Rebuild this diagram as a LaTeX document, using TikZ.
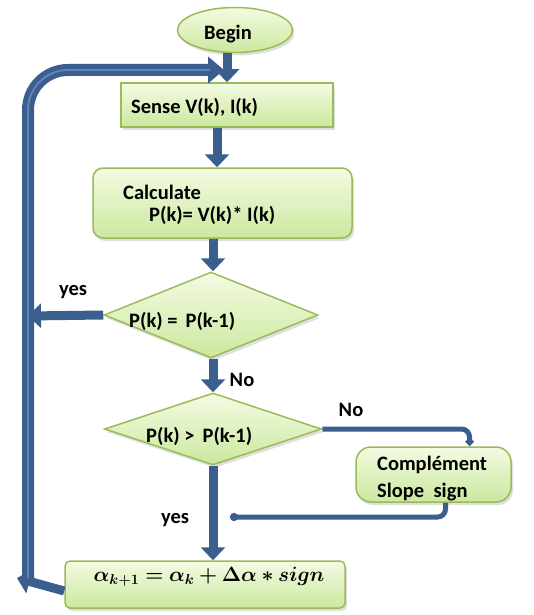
\documentclass[tikz,border=0pt]{standalone}
\usepackage{fontspec}
\usepackage{amsmath,bm}
\setmainfont{Carlito}
\usetikzlibrary{shapes.geometric,arrows.meta,calc,shadows}
\definecolor{flowblue}{HTML}{3A5F8F}
\definecolor{flowlight}{HTML}{5F83B6}
\definecolor{boxedge}{HTML}{9BBB59}
\definecolor{boxtop}{HTML}{F4FBE3}
\definecolor{boxbot}{HTML}{CBE89E}
\tikzset{
  x=1pt,y=-1pt,
  boxbase/.style={draw=boxedge,line width=1.5pt,top color=boxtop,bottom color=boxbot,
     drop shadow={opacity=0.25,shadow xshift=2pt,shadow yshift=-3pt},inner sep=0pt},
  procbox/.style={boxbase,rectangle},
  roundbox/.style={boxbase,rectangle,rounded corners=#1},
  decbox/.style={boxbase,diamond},
  termbox/.style={boxbase,ellipse},
  txt/.style={font=\fontsize{20.5}{24}\selectfont\bfseries,inner sep=0pt,anchor=west},
  lbl/.style={font=\fontsize{20.5}{24}\selectfont\bfseries,inner sep=0pt},
  flow/.style={draw=flowblue,line width=9pt,-{Triangle[width=24pt,length=13pt]}},
  thinflow/.style={draw=flowblue,line width=5pt,rounded corners=8pt},
}
\begin{document}
\begin{tikzpicture}
\useasboundingbox (0,0) rectangle (533,615);
% shapes
\node[termbox,minimum width=115,minimum height=45] (begin) at (235,30) {};
\node[lbl] (begint) at (228,34) {Begin};
\node[procbox,minimum width=212,minimum height=44] (sense) at (227,105) {};
\node[txt] (senset) at (131,107) {Sense V(k), I(k)};
\node[roundbox=10pt,minimum width=259,minimum height=70] (calc) at (222.5,203) {};
\node[txt] (calct1) at (123,192) {Calculate};
\node[txt] (calct2) at (149,215) {P(k)= V(k)* I(k)};
\node[decbox,minimum width=214,minimum height=86] (d1) at (211,315) {};
\node[txt] (d1t) at (129,321) {P(k) =\ \,P(k-1)};
\node[decbox,minimum width=217,minimum height=72] (d2) at (213,429) {};
\node[txt] (d2t) at (146,436) {P(k) >\ \,P(k-1)};
\node[roundbox=15pt,minimum width=155,minimum height=55] (comp) at (433.5,474.5) {};
\node[txt] (compt1) at (377,465) {Complément};
\node[txt] (compt2) at (377,492) {Slope\ \ sign};
\node[roundbox=5pt,minimum width=280,minimum height=47] (alpha) at (205,584.5) {};
\node[inner sep=0pt,font=\fontsize{20.5}{24}\selectfont] (alphat) at (209,577)
  {$\boldsymbol{\alpha_{k+1} = \alpha_k + \Delta\alpha * sign}$};
% labels
\node[lbl] (yes1) at (73,292) {yes};
\node[lbl] (no1) at (242,380) {No};
\node[lbl] (no2) at (351,410) {No};
\node[lbl] (yes2) at (175,520) {yes};
% coordinates
\coordinate (loopend) at (224,70);
\coordinate (loopx) at (28,316);
\coordinate (leftend) at (17,578);
\coordinate (joinend) at (230,517);
% connectors
\draw[flow] (begin.south -| sense.north) -- (sense.north);
\draw[flow] ([xshift=-10pt]sense.south) -- ([xshift=-10pt]sense.south |- calc.north);
\draw[flow] ([xshift=-9.5pt]calc.south) -- ([xshift=-9.5pt]calc.south |- d1.north);
\draw[flow] (d1.south -| d2.north) -- (d2.north);
\draw[flow] (d1.west) -- (loopx);
\draw[flow] (d2.south) -- (d2.south |- alpha.north);
\draw[flow] ([yshift=-6.5pt]alpha.west) -- (leftend);
% loop back
\draw[draw=flowblue,line width=12pt,rounded corners=40pt,-{Triangle[width=26pt,length=16pt]}]
  (leftend -| loopx) -- (loopx |- loopend) -- (loopend);
\draw[draw=flowlight,line width=2pt,rounded corners=40pt]
  (leftend -| loopx) -- (loopx |- loopend) -- ([xshift=-14pt]loopend);
% side branches
\draw[thinflow,-{Diamond[length=9pt,width=9pt]}] (d2.east) -- ([xshift=36pt]comp.north |- d2.east) -- ([xshift=36pt]comp.north);
\draw[thinflow,-{Circle[length=8pt]}] ([xshift=12pt]comp.south) -- ([xshift=12pt]comp.south |- joinend) -- (joinend);
\end{tikzpicture}
\end{document}
